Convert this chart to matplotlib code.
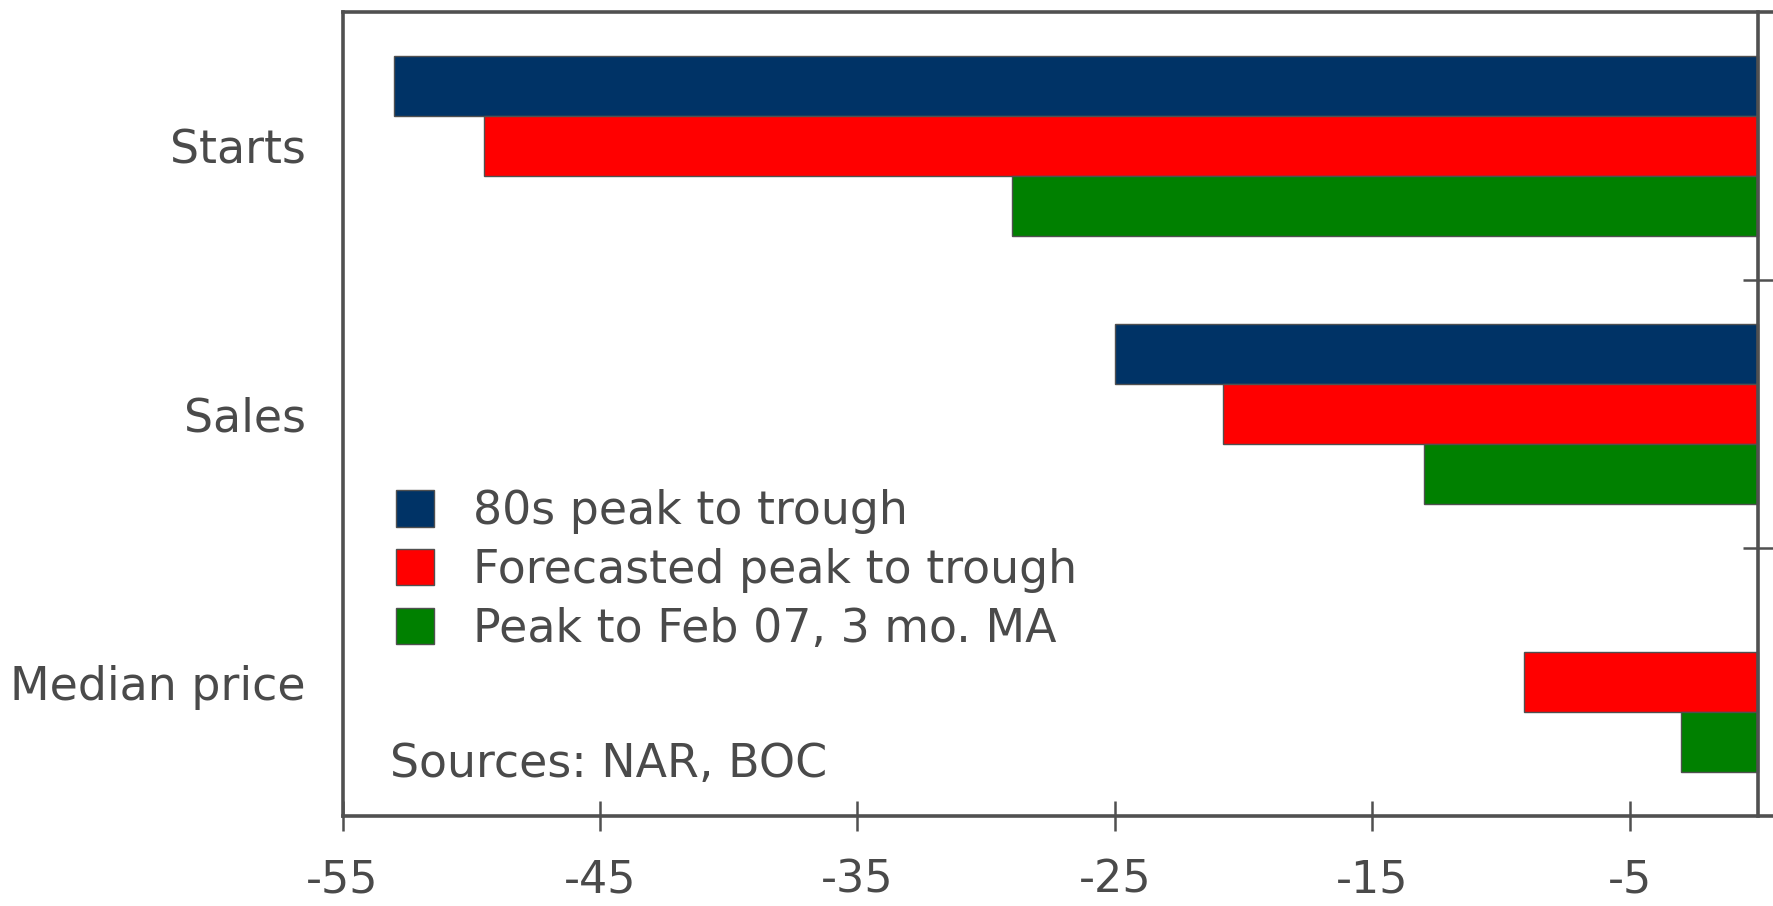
import matplotlib.pyplot as plt
import numpy as np

categories = ["Starts", "Sales", "Median price"]
series_names = ["80s peak to trough", "Forecasted peak to trough", "Peak to Feb 07, 3 mo. MA"]
eighties = [-53.0, -25.0, np.nan]
forecast = [-49.5, -20.8, -9.1]
feb07 = [-29.0, -13.0, -3.0]
xticks = [-55, -45, -35, -25, -15, -5]

colors = ["#003366", "#ff0000", "#008000"]
gray = "#505050"
text_col = "#4a4a4a"

fig = plt.figure(figsize=(17.73, 9.06), dpi=100)
ax = fig.add_axes([0.1932, 0.0989, 0.8073, 0.8874])

y = np.arange(len(categories))
h = 0.224
for i, (vals, col, name) in enumerate(zip([eighties, forecast, feb07], colors, series_names)):
    ax.barh(y + (i - 1) * h, vals, height=h, color=col, edgecolor=gray,
            linewidth=1.0, label=name)

ax.set_xlim(-55, 0.6)
ax.set_ylim(2.5, -0.5)

# spines
for s in ["top", "bottom", "left", "right"]:
    ax.spines[s].set_color(gray)
    ax.spines[s].set_linewidth(2.6)
ax.spines["right"].set_position(("data", 0))

ax.set_xticks(xticks)
ax.set_xticklabels([str(t) for t in xticks], family=["Liberation Sans Narrow", "DejaVu Sans"],
                   fontsize=32, color=text_col)
ax.tick_params(axis="x", direction="inout", length=22, width=1.8, color=gray, pad=19)

ax.set_yticks(y)
ax.set_yticklabels(categories, fontsize=33, color=text_col)
ax.set_yticks(y[:-1] + 0.5, minor=True)
ax.tick_params(axis="y", which="major", left=False, right=False, pad=23)
ax.tick_params(axis="y", which="minor", left=False, right=True, direction="inout",
               length=22, width=1.8, color=gray)

leg = ax.legend(loc="upper left", bbox_to_anchor=(0.037, 0.407), frameon=False,
                fontsize=33, handlelength=0.85, handleheight=0.85, handletextpad=0.85,
                labelspacing=0.3, borderpad=0, borderaxespad=0)
for t in leg.get_texts():
    t.set_color(text_col)

ax.text(0.033, 0.065, "Sources: NAR, BOC", transform=ax.transAxes, fontsize=33,
        color=text_col, va="center", ha="left")

fig.savefig("out.png", dpi=100)
